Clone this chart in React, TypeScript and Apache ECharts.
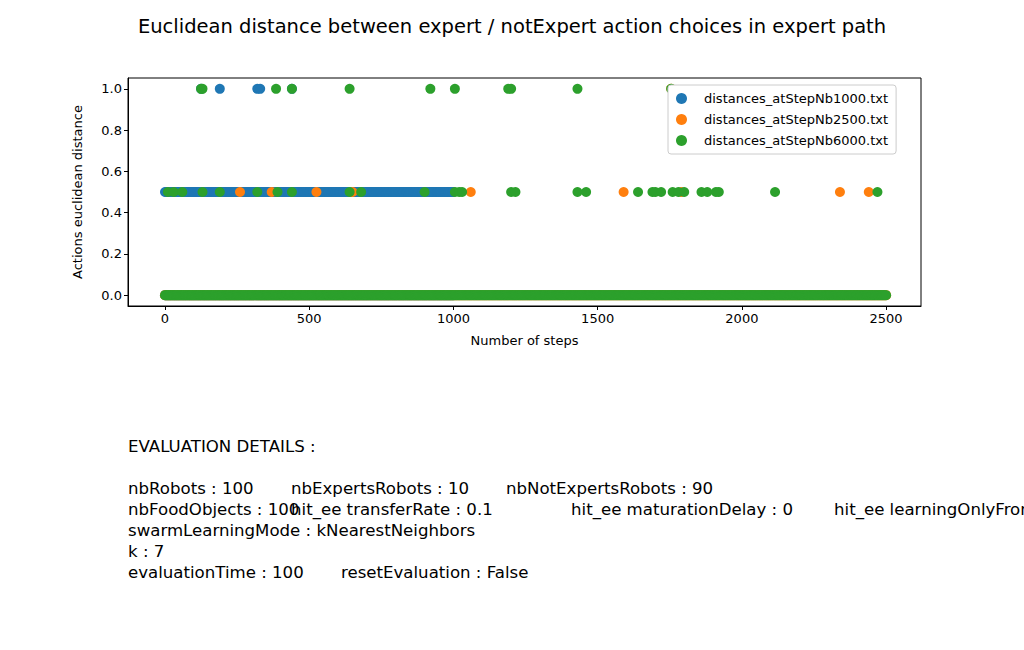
import React, { useEffect, useRef } from "react";
import * as echarts from "echarts";

const seriesNames = ["distances_atStepNb1000.txt", "distances_atStepNb2500.txt", "distances_atStepNb6000.txt"];
const colors = ["#1f77b4", "#ff7f0e", "#2ca02c"];
// runs of consecutive steps with a given distance: [startStep, endStep, value]
const runs1000: number[][] = [[0, 1000, 0], [0, 1000, 0.5]];
const runs2500: number[][] = [[0, 2500, 0]];
const runs6000: number[][] = [[0, 2500, 0]];
const single1000: number[][] = [[125, 1], [190, 1], [320, 1], [330, 1], [440, 1]];
const single2500: number[][] = [[260, 0.5], [370, 0.5], [525, 0.5], [650, 0.5], [1060, 0.5], [1590, 0.5], [1790, 0.5], [2340, 0.5], [2440, 0.5], [1755, 1]];
const single6000: number[][] = [
  [10, 0.5], [30, 0.5], [60, 0.5], [130, 0.5], [190, 0.5], [320, 0.5], [390, 0.5], [440, 0.5], [640, 0.5], [680, 0.5], [900, 0.5],
  [1005, 0.5], [1020, 0.5], [1030, 0.5], [1200, 0.5], [1215, 0.5], [1430, 0.5], [1460, 0.5], [1640, 0.5], [1690, 0.5], [1700, 0.5],
  [1720, 0.5], [1760, 0.5], [1780, 0.5], [1800, 0.5], [1860, 0.5], [1880, 0.5], [1910, 0.5], [1920, 0.5], [2115, 0.5], [2470, 0.5],
  [125, 1], [130, 1], [385, 1], [440, 1], [640, 1], [920, 1], [1005, 1], [1190, 1], [1200, 1], [1430, 1], [1755, 1],
];
const xTicks = [0, 500, 1000, 1500, 2000, 2500];
const yTicks = [0, 0.2, 0.4, 0.6, 0.8, 1.0];

function expand(runs: number[][], singles: number[][]) {
  const out: number[][] = [];
  runs.forEach(([a, b, v]) => { for (let s = a; s <= b; s += 4) out.push([s, v]); });
  return out.concat(singles);
}

export default function App() {
  const ref = useRef<HTMLDivElement>(null);
  useEffect(() => {
    const chart = echarts.init(ref.current!, null, { renderer: "svg" });
    const font = "DejaVu Sans";
    const datas = [expand(runs1000, single1000), expand(runs2500, single2500), expand(runs6000, single6000)];
    const lineSets: [number, string][][] = [
      [[128, "nbRobots : 100"], [291, "nbExpertsRobots : 10"], [506, "nbNotExpertsRobots : 90"]],
      [[128, "nbFoodObjects : 100"], [291, "hit_ee transferRate : 0.1"], [571, "hit_ee maturationDelay : 0"], [834, "hit_ee learningOnlyFromExperts : True"]],
      [[128, "swarmLearningMode : kNearestNeighbors"]],
      [[128, "k : 7"]],
      [[128, "evaluationTime : 100"], [341, "resetEvaluation : False"]],
    ];
    const tf = `16.6px ${font}`;
    const graphics: any[] = [{ type: "text", x: 128, y: 438, style: { text: "EVALUATION DETAILS :", font: tf, fill: "#000" } }];
    lineSets.forEach((line, i) => line.forEach(([x, t]) => graphics.push({ type: "text", x, y: 480 + i * 21, style: { text: t, font: tf, fill: "#000" } })));
    chart.setOption({
      animation: false,
      title: { text: "Euclidean distance between expert / notExpert action choices in expert path", left: "center", top: 11, textStyle: { fontFamily: font, fontSize: 19.5, fontWeight: "normal", color: "#000" } },
      grid: { left: 128, right: 103, top: 78, bottom: 344, show: true, borderColor: "#000", borderWidth: 1 },
      legend: {
        orient: "vertical", left: 668, top: 85, padding: [7, 8, 7, 8], itemGap: 8,
        borderColor: "#ccc", borderWidth: 1, borderRadius: 3, backgroundColor: "#fff",
        itemWidth: 11, itemHeight: 11, icon: "circle",
        textStyle: { fontFamily: font, fontSize: 13, color: "#000", padding: [0, 0, 0, 12] },
        data: seriesNames,
      },
      xAxis: {
        type: "value", min: -128.3, max: 2621, name: "Number of steps", nameLocation: "middle", nameGap: 28,
        nameTextStyle: { fontFamily: font, fontSize: 13, color: "#000" },
        axisLine: { onZero: false, lineStyle: { color: "#000" } }, splitLine: { show: false },
        axisTick: { show: true, customValues: xTicks, length: 4, lineStyle: { color: "#000" } },
        axisLabel: { customValues: xTicks, fontFamily: font, fontSize: 13, color: "#000", margin: 6, formatter: (v: number) => String(v) },
      },
      yAxis: {
        type: "value", min: -0.0525, max: 1.0525, name: "Actions euclidean distance", nameLocation: "middle", nameGap: 44,
        nameTextStyle: { fontFamily: font, fontSize: 13, color: "#000" },
        axisLine: { show: true, onZero: false, lineStyle: { color: "#000" } }, splitLine: { show: false },
        axisTick: { show: true, customValues: yTicks, length: 4, lineStyle: { color: "#000" } },
        axisLabel: { customValues: yTicks, fontFamily: font, fontSize: 13, color: "#000", margin: 6, formatter: (v: number) => v.toFixed(1) },
      },
      series: seriesNames.map((n, i) => ({ name: n, type: "scatter", data: datas[i], symbolSize: 10, itemStyle: { color: colors[i], opacity: 1 } })),
      graphic: graphics,
    });
    return () => chart.dispose();
  }, []);
  return <div ref={ref} style={{ position: "fixed", left: 0, top: 0, width: 1024, height: 650, background: "#fff" }} />;
}
